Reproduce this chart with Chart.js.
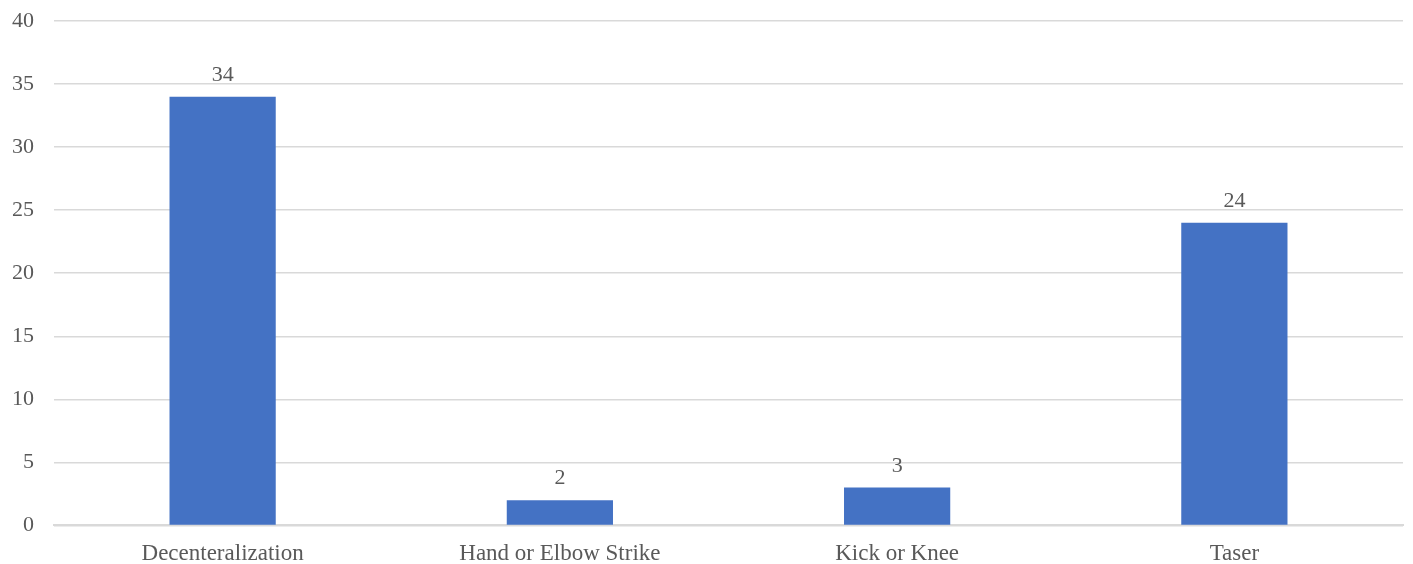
<!DOCTYPE html>
<html>
<head>
<meta charset="utf-8">
<script src="https://cdn.jsdelivr.net/npm/chart.js@4/dist/chart.umd.min.js"></script>
<style>
    html, body { margin: 0; padding: 0; background: #fff; }
    #wrap { width: 1413px; height: 564px; }
</style>
</head>
<body>
<div id="wrap"><canvas id="forceChart"></canvas></div>
<script>
const categories = ['Decenteralization', 'Hand or Elbow Strike', 'Kick or Knee', 'Taser'];
const counts = [34, 2, 3, 24];
const yTicks = [0, 5, 10, 15, 20, 25, 30, 35, 40];

const FONT = '"Liberation Serif", "DejaVu Serif", serif';
const TEXT_COLOR = '#595959';

// draws the value above each bar
const valueLabels = {
    id: 'valueLabels',
    afterDatasetsDraw(chart) {
        const ctx = chart.ctx;
        ctx.save();
        ctx.font = '22px ' + FONT;
        ctx.fillStyle = TEXT_COLOR;
        ctx.textAlign = 'center';
        ctx.textBaseline = 'alphabetic';
        chart.getDatasetMeta(0).data.forEach((bar, i) => {
            ctx.fillText(String(counts[i]), bar.x, bar.y - 16);
        });
        ctx.restore();
    }
};

new Chart(document.getElementById('forceChart'), {
    type: 'bar',
    data: {
        labels: categories,
        datasets: [{
            data: counts,
            backgroundColor: '#4472C4',
            borderWidth: 0,
            barPercentage: 0.63,
            categoryPercentage: 0.5
        }]
    },
    options: {
        responsive: true,
        maintainAspectRatio: false,
        animation: false,
        layout: { padding: { top: 21, right: 10, left: -8, bottom: -11 } },
        plugins: {
            legend: { display: false },
            tooltip: { enabled: false }
        },
        scales: {
            x: {
                grid: { display: false },
                border: { display: true, color: '#d9d9d9', width: 2 },
                ticks: { color: TEXT_COLOR, font: { family: FONT, size: 23 }, padding: 7 }
            },
            y: {
                min: 0,
                max: 40,
                afterBuildTicks: axis => { axis.ticks = yTicks.map(v => ({ value: v })); },
                afterFit: axis => { axis.paddingTop = 0; },
                grid: { color: '#d9d9d9', lineWidth: 1.5, drawTicks: false },
                border: { display: false },
                ticks: { color: TEXT_COLOR, font: { family: FONT, size: 22 }, padding: 20 }
            }
        }
    },
    plugins: [valueLabels]
});
</script>
</body>
</html>
